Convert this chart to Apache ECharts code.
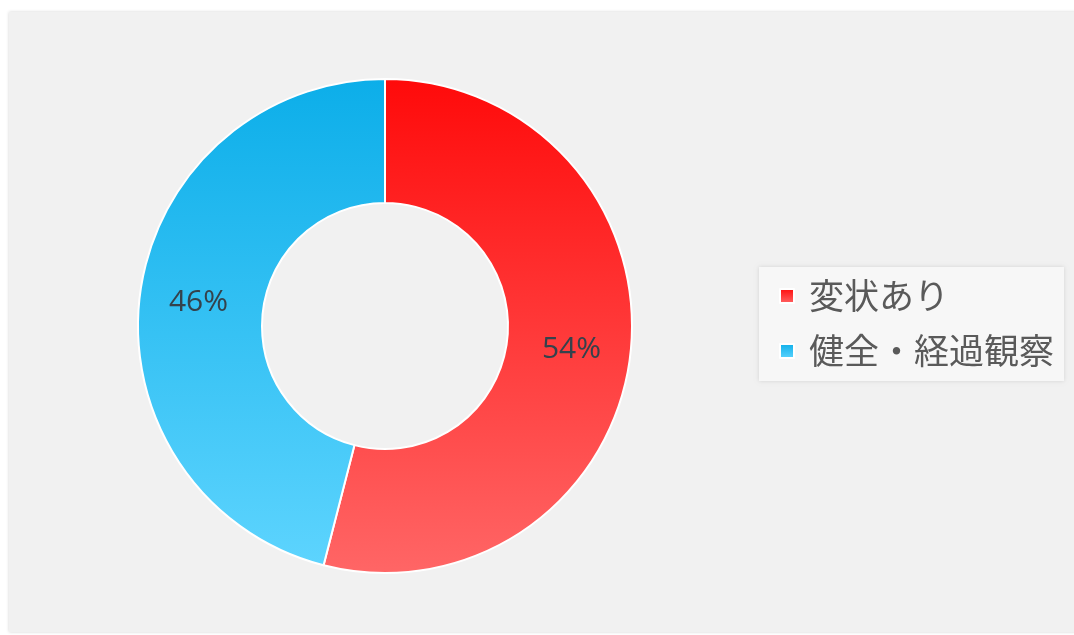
<!DOCTYPE html>
<html>
<head>
<meta charset="utf-8">
<script src="https://cdn.jsdelivr.net/npm/echarts@6/dist/echarts.min.js"></script>
<style>
html,body{margin:0;padding:0;background:#ffffff;width:1074px;height:635px;overflow:hidden;}
#panel{position:absolute;left:9px;top:12px;width:1070px;height:620px;background:#f1f1f1;box-shadow:0 0 3px rgba(0,0,0,0.18);}
#chart{position:absolute;left:0;top:0;width:1074px;height:635px;}
</style>
</head>
<body>
<div id="panel"></div>
<div id="chart"></div>
<script>
const categories = ['変状あり', '健全・経過観察'];
const values = [54, 46];
const topColors = ['#ff0a0a', '#0caee9'];
const bottomColors = ['#ff6666', '#5dd4fe'];

const chart = echarts.init(document.getElementById('chart'));
const data = categories.map((name, i) => ({
  name: name,
  value: values[i],
  itemStyle: {
    color: new echarts.graphic.LinearGradient(0, 0, 0, 1, [
      {offset: 0, color: topColors[i]},
      {offset: 1, color: bottomColors[i]}
    ])
  }
}));

chart.setOption({
  backgroundColor: 'transparent',
  animation: false,
  legend: {
    orient: 'vertical',
    left: 759,
    top: 267,
    padding: [9, 10, 10, 20],
    backgroundColor: '#f7f7f7',
    shadowBlur: 4,
    shadowColor: 'rgba(0,0,0,0.12)',
    itemWidth: 14,
    itemHeight: 14,
    itemGap: 15,
    icon: 'rect',
    data: categories,
    textStyle: {
      fontFamily: '"Noto Sans CJK JP", sans-serif',
      fontSize: 35,
      lineHeight: 40,
      color: '#5a5a5a',
      padding: [0, 0, 0, 10]
    }
  },
  series: [{
    type: 'pie',
    center: [385, 326],
    radius: [123, 247],
    startAngle: 90,
    clockwise: true,
    data: data,
    itemStyle: { borderColor: '#ffffff', borderWidth: 2 },
    label: {
      position: 'inside',
      formatter: function (p) { return Math.round(p.percent) + '%'; },
      fontFamily: '"Open Sans", sans-serif',
      fontSize: 30,
      color: '#34424c'
    },
    labelLine: { show: false },
    emphasis: { disabled: true }
  }]
});
</script>
</body>
</html>
